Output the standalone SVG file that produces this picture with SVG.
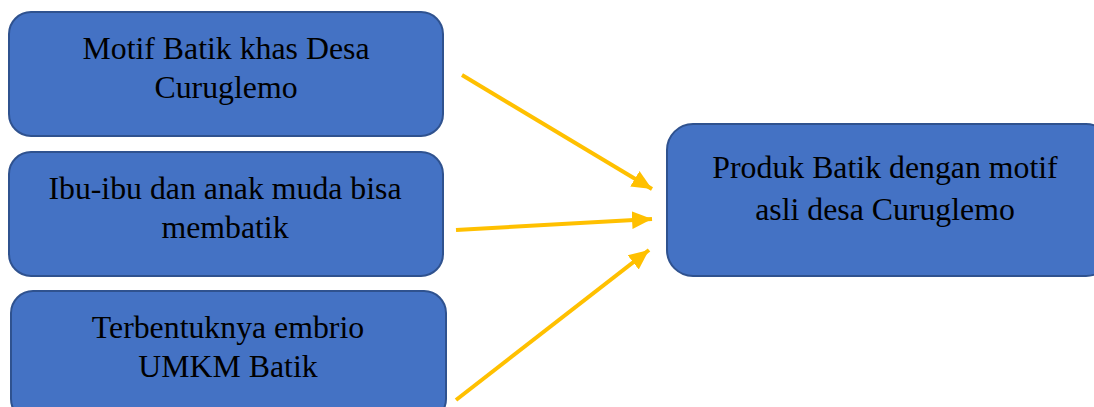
<svg xmlns="http://www.w3.org/2000/svg" width="1094" height="407" viewBox="0 0 1094 407">
<style>
.box{fill:#4472C4;stroke:#2F528F;stroke-width:2}
.t{font-family:"Liberation Serif","Times New Roman",serif;font-size:31.8px;fill:#000;text-anchor:middle}
.arr{stroke:#FFC000;stroke-width:4;fill:none}
</style>
<defs>
<marker id="ah" markerUnits="userSpaceOnUse" markerWidth="22" markerHeight="22" viewBox="0 0 22 22" refX="20" refY="11" orient="auto">
<path d="M0,2 L20,11 L0,20 Z" fill="#FFC000"/>
</marker>
</defs>
<rect width="1094" height="407" fill="#fff"/>
<g id="node1">
<rect class="box" x="9" y="12" width="434" height="124" rx="22"/>
<text class="t" x="226" y="59">Motif Batik khas Desa</text>
<text class="t" x="226" y="98">Curuglemo</text>
</g>
<g id="node2">
<rect class="box" x="9" y="152" width="434" height="124" rx="22"/>
<text class="t" x="225" y="199">Ibu-ibu dan anak muda bisa</text>
<text class="t" x="225" y="238">membatik</text>
</g>
<g id="node3">
<rect class="box" x="11" y="291" width="435" height="130" rx="22"/>
<text class="t" x="228" y="338">Terbentuknya embrio</text>
<text class="t" x="228" y="377">UMKM Batik</text>
</g>
<g id="node4">
<rect class="box" x="667" y="124" width="445" height="152" rx="26"/>
<text class="t" x="885" y="178">Produk Batik dengan motif</text>
<text class="t" x="885" y="220">asli desa Curuglemo</text>
</g>
<g id="connectors">
<line class="arr" x1="462" y1="75" x2="652" y2="189" marker-end="url(#ah)"/>
<line class="arr" x1="456" y1="230" x2="652" y2="219" marker-end="url(#ah)"/>
<line class="arr" x1="456" y1="400" x2="649" y2="250" marker-end="url(#ah)"/>
</g>
</svg>
